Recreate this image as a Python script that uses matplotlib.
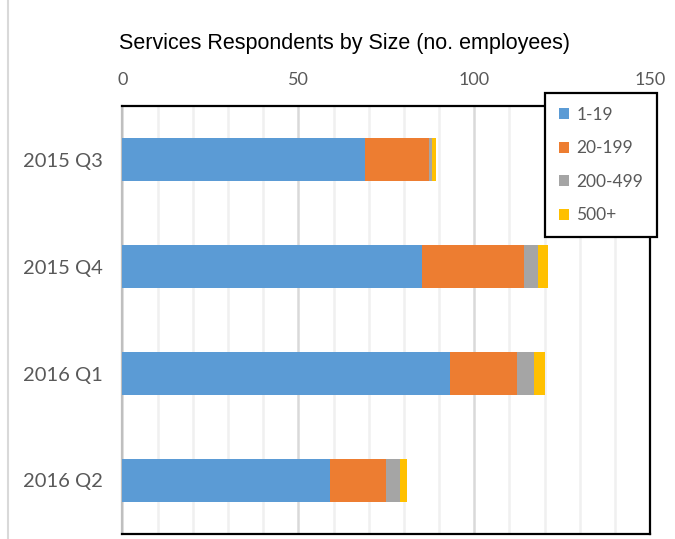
import matplotlib.pyplot as plt
import numpy as np
from matplotlib.lines import Line2D
from matplotlib.patches import Patch

quarters = ["2015 Q3", "2015 Q4", "2016 Q1", "2016 Q2"]
size_bands = ["1-19", "20-199", "200-499", "500+"]
emp_1_19 = [69, 85, 93, 59]
emp_20_199 = [18, 29, 19, 16]
emp_200_499 = [1, 4, 5, 4]
emp_500_plus = [1, 3, 3, 2]
x_ticks = [0, 50, 100, 150]

colors = ["#5b9bd5", "#ed7d31", "#a5a5a5", "#ffc000"]
text_grey = "#595959"

fig = plt.figure(figsize=(6.75, 5.39), dpi=100)
ax = fig.add_axes([0.1812, 0.0093, 0.7822, 0.7940])

y = np.arange(len(quarters))
left = np.zeros(len(quarters))
for vals, col in zip([emp_1_19, emp_20_199, emp_200_499, emp_500_plus], colors):
    ax.barh(y, vals, left=left, height=0.4, color=col, edgecolor="none", zorder=3)
    left += np.array(vals)

ax.set_xlim(0, 150)
ax.set_ylim(3.5, -0.5)
ax.set_yticks(y)
ax.set_yticklabels(quarters, fontsize=14.5, color=text_grey, family="Lato")
ax.set_xticks(x_ticks)
ax.set_xticklabels([str(t) for t in x_ticks], fontsize=13, color=text_grey, family="Lato")
ax.set_xticks(np.arange(0, 151, 10), minor=True)
ax.xaxis.tick_top()
ax.tick_params(axis="both", which="both", length=0)
ax.tick_params(axis="y", pad=14)
ax.tick_params(axis="x", pad=13)

# excel-style gridlines: light minor every 10, slightly darker at majors
ax.grid(axis="x", which="minor", color="#f0f0f0", linewidth=1.8, zorder=0)
ax.grid(axis="x", which="major", color="#d9d9d9", linewidth=1.8, zorder=0)
ax.grid(axis="y", visible=False)

for side in ["top", "right", "bottom"]:
    ax.spines[side].set_color("black")
    ax.spines[side].set_linewidth(1.6)
ax.spines["left"].set_color("#bfbfbf")
ax.spines["left"].set_linewidth(1.6)

fig.text(0.511, 0.92, "Services Respondents by Size (no. employees)",
         ha="center", va="center", fontsize=15.5, family="Liberation Sans", color="black")

# outer chart border on the left
fig.add_artist(Line2D([0.012, 0.012], [0, 1], color="#d9d9d9", linewidth=1.5))

handles = [Patch(facecolor=c, edgecolor="none", label=l) for c, l in zip(colors, size_bands)]
leg = ax.legend(handles=handles, loc="upper right", bbox_to_anchor=(1.013, 1.03),
                frameon=True, fancybox=False, edgecolor="black", framealpha=1,
                prop={"family": "Lato", "size": 12.5}, labelcolor=text_grey,
                handlelength=0.6, handleheight=0.6, handletextpad=0.4,
                labelspacing=1.0, borderpad=0.8, borderaxespad=0)
leg.get_frame().set_linewidth(1.6)
leg.set_zorder(5)

fig.savefig("out.png", dpi=100)
